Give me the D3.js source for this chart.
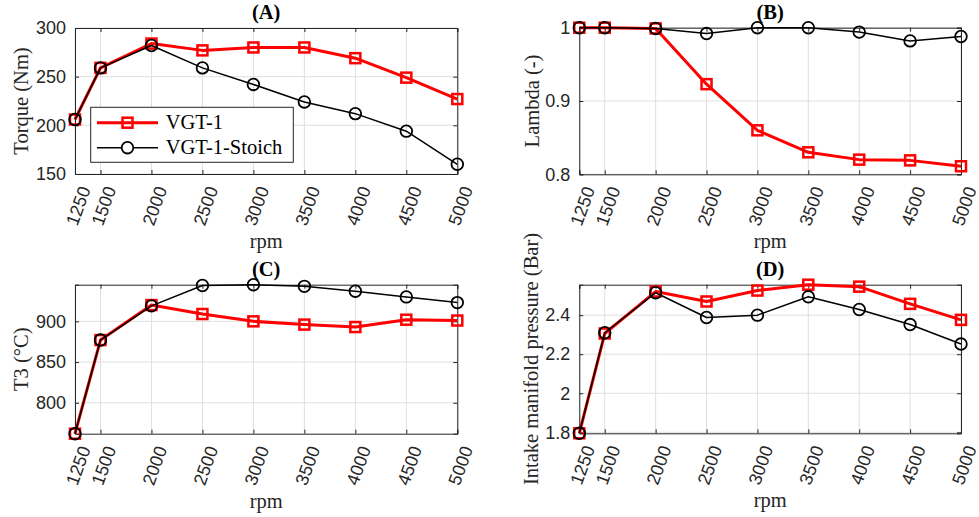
<!DOCTYPE html>
<html>
<head>
<meta charset="utf-8">
<script src="https://cdn.jsdelivr.net/npm/d3@7"></script>
<style>
html,body{margin:0;padding:0;background:#fff;}
svg{display:block;}
</style>
</head>
<body>
<svg id="chart" width="979" height="517"></svg>
<script>
// ---- data ----
const rpm = [1250, 1500, 2000, 2500, 3000, 3500, 4000, 4500, 5000];
const xTickLabels = ["1250", "1500", "2000", "2500", "3000", "3500", "4000", "4500", "5000"];
const seriesNames = ["VGT-1", "VGT-1-Stoich"];

const torqueVGT1   = [206, 259, 284, 277, 280, 280, 269, 249, 227];
const torqueStoich = [206, 259, 282, 259, 242, 224, 212, 194, 160];

const lambdaVGT1   = [1.0, 1.0, 0.999, 0.923, 0.860, 0.830, 0.820, 0.819, 0.811];
const lambdaStoich = [1.0, 1.0, 0.999, 0.992, 1.0, 1.0, 0.994, 0.982, 0.988];

const t3VGT1   = [762, 877, 920, 909, 900, 896, 893, 902, 901];
const t3Stoich = [762, 877, 919, 944, 945, 943, 937, 930, 923];

const impVGT1   = [1.795, 2.306, 2.521, 2.470, 2.526, 2.556, 2.546, 2.458, 2.376];
const impStoich = [1.795, 2.310, 2.515, 2.388, 2.400, 2.494, 2.429, 2.352, 2.252];

const torqueTicks = [150, 200, 250, 300];
const lambdaTicks = [0.8, 0.9, 1];
const t3Ticks = [800, 850, 900];
const impTicks = [1.8, 2, 2.2, 2.4];

// ---- layout ----
const svg = d3.select("#chart");
const AX = "#262626";
const GRID = "#dfdfdf";
const RED = "#ff0000";

const panels = [
  {title: "(A)", ylabel: "Torque (Nm)", a: torqueVGT1, b: torqueStoich, dom: [150, 300], ticks: torqueTicks,
   x0: 75, x1: 457.3, y0: 28, y1: 174, labX: 22},
  {title: "(B)", ylabel: "Lambda (-)", a: lambdaVGT1, b: lambdaStoich, dom: [0.8, 1.0], ticks: lambdaTicks,
   x0: 579.3, x1: 961, y0: 27.7, y1: 174.3, labX: 533},
  {title: "(C)", ylabel: "T3 (\u00B0C)", a: t3VGT1, b: t3Stoich, dom: [762, 945], ticks: t3Ticks,
   x0: 75, x1: 457.3, y0: 284.7, y1: 433.7, labX: 22},
  {title: "(D)", ylabel: "Intake manifold pressure (Bar)", a: impVGT1, b: impStoich, dom: [1.795, 2.556], ticks: impTicks,
   x0: 579.3, x1: 961, y0: 284.7, y1: 433.3, labX: 532}
];

panels.forEach((p, pi) => {
  const x = d3.scaleLinear().domain([1250, 5000]).range([p.x0, p.x1]);
  const y = d3.scaleLinear().domain(p.dom).range([p.y1, p.y0]);
  const g = svg.append("g");

  // grid
  g.selectAll(".gx").data(rpm).enter().append("line")
    .attr("x1", d => x(d)).attr("x2", d => x(d)).attr("y1", p.y0).attr("y2", p.y1)
    .attr("stroke", GRID).attr("stroke-width", 1);
  g.selectAll(".gy").data(p.ticks).enter().append("line")
    .attr("x1", p.x0).attr("x2", p.x1).attr("y1", d => y(d)).attr("y2", d => y(d))
    .attr("stroke", GRID).attr("stroke-width", 1);

  // axes via d3 (inward ticks)
  const fmt = d => String(d);
  const bottom = g.append("g").attr("transform", `translate(0,${p.y1})`)
    .call(d3.axisBottom(x).tickValues(rpm).tickSize(-4).tickFormat(""));
  const top = g.append("g").attr("transform", `translate(0,${p.y0})`)
    .call(d3.axisTop(x).tickValues(rpm).tickSize(-4).tickFormat(""));
  const left = g.append("g").attr("transform", `translate(${p.x0},0)`)
    .call(d3.axisLeft(y).tickValues(p.ticks).tickSize(-4).tickPadding(9).tickFormat(fmt));
  const right = g.append("g").attr("transform", `translate(${p.x1},0)`)
    .call(d3.axisRight(y).tickValues(p.ticks).tickSize(-4).tickFormat(""));
  [bottom, top, left, right].forEach(a => {
    a.select(".domain").attr("stroke", AX).attr("stroke-width", 1);
    a.selectAll(".tick line").attr("stroke", AX).attr("stroke-width", 1);
  });
  left.selectAll(".tick text").attr("fill", AX)
    .style("font-family", "'Liberation Sans', Arial, sans-serif").style("font-size", "18px");

  // rotated x tick labels
  g.selectAll(".xl").data(rpm).enter().append("text")
    .attr("transform", (d) => `translate(${x(d) + 10},${p.y1 + 13}) rotate(-70)`)
    .attr("text-anchor", "end").attr("dy", "0.35em")
    .attr("fill", AX)
    .style("font-family", "'Liberation Sans', Arial, sans-serif").style("font-size", "18px")
    .text((d, i) => xTickLabels[i]);

  // x label
  g.append("text").attr("x", (p.x0 + p.x1) / 2).attr("y", p.y1 + 74)
    .attr("text-anchor", "middle").attr("fill", AX)
    .style("font-family", "'Liberation Serif', 'Times New Roman', serif").style("font-size", "20.5px")
    .text("rpm");

  // y label
  g.append("text")
    .attr("transform", `translate(${p.labX},${(p.y0 + p.y1) / 2}) rotate(-90)`)
    .attr("text-anchor", "middle").attr("dy", "0.3em").attr("fill", AX)
    .style("font-family", "'Liberation Serif', 'Times New Roman', serif").style("font-size", "20.5px")
    .text(p.ylabel);

  // title
  g.append("text").attr("x", (p.x0 + p.x1) / 2).attr("y", p.y0 - 9)
    .attr("text-anchor", "middle").attr("fill", "#000")
    .style("font-family", "'Liberation Serif', 'Times New Roman', serif").style("font-size", "20.5px")
    .style("font-weight", "bold")
    .text(p.title);

  // series
  const line = d3.line().x((d, i) => x(rpm[i])).y(d => y(d));
  g.append("path").datum(p.a).attr("d", line).attr("fill", "none")
    .attr("stroke", RED).attr("stroke-width", 3).attr("stroke-linejoin", "round");
  g.selectAll(".sq").data(p.a).enter().append("rect")
    .attr("x", (d, i) => x(rpm[i]) - 5).attr("y", d => y(d) - 5)
    .attr("width", 10).attr("height", 10)
    .attr("fill", "none").attr("stroke", RED).attr("stroke-width", 2.5);

  g.append("path").datum(p.b).attr("d", line).attr("fill", "none")
    .attr("stroke", "#000").attr("stroke-width", 1.5).attr("stroke-linejoin", "round");
  g.selectAll(".ci").data(p.b).enter().append("circle")
    .attr("cx", (d, i) => x(rpm[i])).attr("cy", d => y(d)).attr("r", 5.8)
    .attr("fill", "none").attr("stroke", "#000").attr("stroke-width", 1.8);

  // legend (panel A only)
  if (pi === 0) {
    const lg = g.append("g");
    lg.append("rect").attr("x", 90.7).attr("y", 107.3).attr("width", 202.6).attr("height", 55)
      .attr("fill", "#fff").attr("stroke", AX).attr("stroke-width", 1);
    const rows = [122.7, 147.7];
    // VGT-1
    lg.append("line").attr("x1", 97).attr("x2", 158).attr("y1", rows[0]).attr("y2", rows[0])
      .attr("stroke", RED).attr("stroke-width", 3);
    lg.append("rect").attr("x", 127.5 - 5).attr("y", rows[0] - 5).attr("width", 10).attr("height", 10)
      .attr("fill", "none").attr("stroke", RED).attr("stroke-width", 2.5);
    // Stoich
    lg.append("line").attr("x1", 97).attr("x2", 158).attr("y1", rows[1]).attr("y2", rows[1])
      .attr("stroke", "#000").attr("stroke-width", 1.5);
    lg.append("circle").attr("cx", 127.5).attr("cy", rows[1]).attr("r", 5.8)
      .attr("fill", "#fff").attr("stroke", "#000").attr("stroke-width", 1.8);
    seriesNames.forEach((n, i) => {
      lg.append("text").attr("x", 165.7).attr("y", rows[i]).attr("dy", "0.33em")
        .attr("fill", "#000")
        .style("font-family", "'Liberation Serif', 'Times New Roman', serif").style("font-size", "20.5px")
        .text(n);
    });
  }
});
</script>
</body>
</html>
